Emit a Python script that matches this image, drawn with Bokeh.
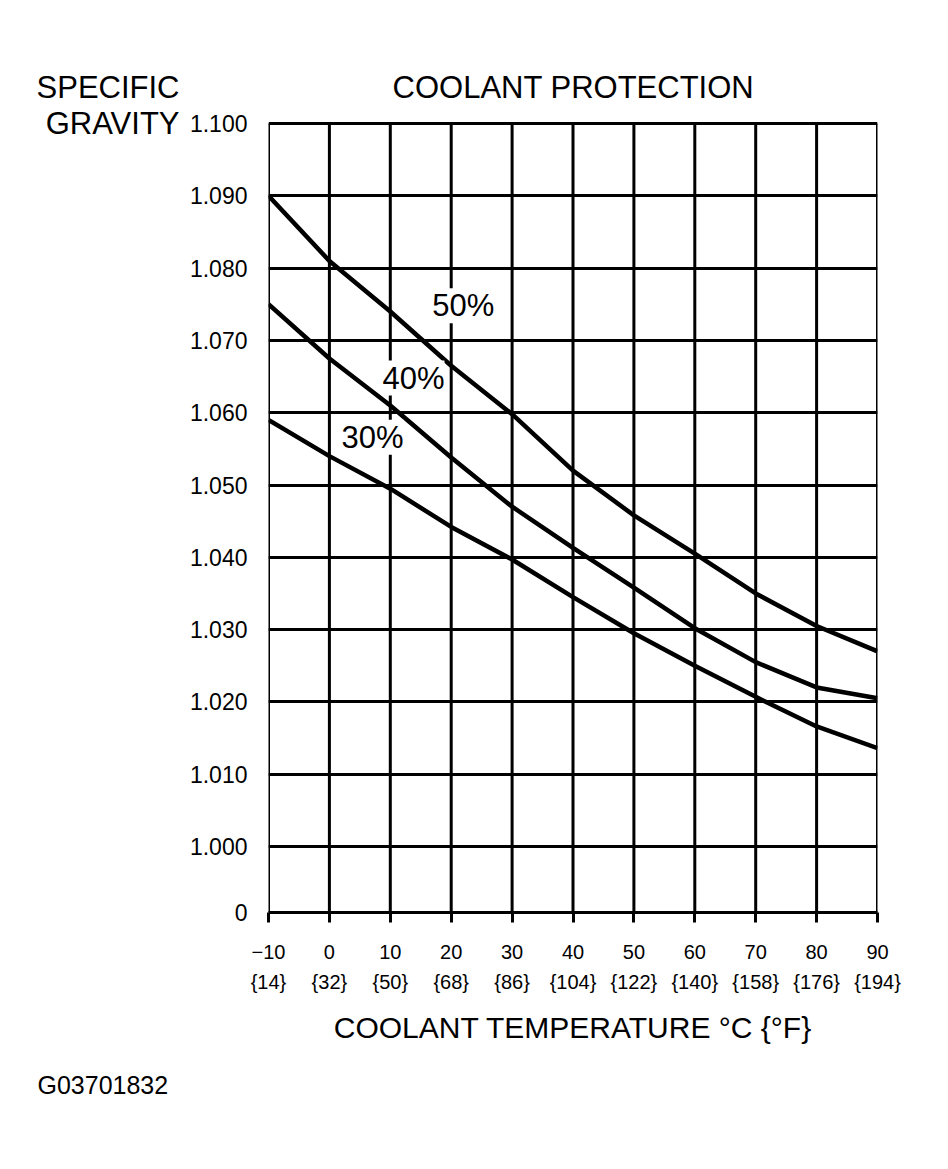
from bokeh.plotting import figure
from bokeh.models import ColumnDataSource, FixedTicker, LinearAxis, Label, Range1d, Title
from bokeh.core.properties import value
from bokeh.embed import file_html
from bokeh.resources import INLINE

# temperature axis, deg C with deg F in braces
temp_c = [-10, 0, 10, 20, 30, 40, 50, 60, 70, 80, 90]
temp_c_labels = ["\u221210", "0", "10", "20", "30", "40", "50", "60", "70", "80", "90"]
temp_f_labels = ["{14}", "{32}", "{50}", "{68}", "{86}", "{104}", "{122}", "{140}", "{158}", "{176}", "{194}"]

# specific gravity
sg_50 = [1.0900, 1.0810, 1.0740, 1.0665, 1.0598, 1.0520, 1.0458, 1.0405, 1.0350, 1.0305, 1.0270]
sg_40 = [1.0750, 1.0675, 1.0610, 1.0538, 1.0470, 1.0413, 1.0358, 1.0302, 1.0255, 1.0220, 1.0205]
sg_30 = [1.0590, 1.0540, 1.0495, 1.0442, 1.0397, 1.0345, 1.0295, 1.0250, 1.0207, 1.0166, 1.0136]

sg_ticks = [1.000, 1.010, 1.020, 1.030, 1.040, 1.050, 1.060, 1.070, 1.080, 1.090, 1.100]
sg_tick_labels = ["1.000", "1.010", "1.020", "1.030", "1.040", "1.050",
                  "1.060", "1.070", "1.080", "1.090", "1.100"]
zero_pos = 0.99087  # the axis is broken: "0" sits just under 1.000
sg_top = 1.100
title_row = 1.105   # height of the caption line above the grid
range_top = 1.109

pct_labels = ["50%", "40%", "30%"]
pct_x = [22.0, 13.8, 7.1]
pct_y = [1.0748, 1.0648, 1.0566]

FONT = "Liberation Sans"

p = figure(width=940, height=1160, output_backend="svg", toolbar_location=None,
           x_range=Range1d(-10, 90), y_range=Range1d(zero_pos, range_top),
           min_border_left=268, min_border_right=63, min_border_top=58, min_border_bottom=248)
p.background_fill_color = "white"
p.border_fill_color = "white"
p.outline_line_color = None

# horizontal grid (top one closes the box)
p.xgrid.visible = False
p.ygrid.ticker = FixedTicker(ticks=[zero_pos] + sg_ticks)
p.ygrid.grid_line_color = "black"
p.ygrid.grid_line_width = 3
p.ygrid.grid_line_alpha = 1.0

# vertical grid lines only as high as 1.100
vsrc = ColumnDataSource(data=dict(x=temp_c, y0=[zero_pos] * len(temp_c), y1=[sg_top] * len(temp_c)))
p.segment(x0="x", y0="y0", x1="x", y1="y1", source=vsrc, line_color="black", line_width=3)

# y axis
p.yaxis.ticker = FixedTicker(ticks=[zero_pos] + sg_ticks)
ylab = {zero_pos: "0"}
for t, s in zip(sg_ticks, sg_tick_labels):
    ylab[t] = s
p.yaxis.major_label_overrides = ylab
p.yaxis.axis_line_color = None
p.yaxis.major_tick_line_color = None
p.yaxis.minor_tick_line_color = None
p.yaxis.major_tick_out = 0
p.yaxis.major_tick_in = 0
p.yaxis.major_label_standoff = 21
p.yaxis.major_label_text_font = FONT
p.yaxis.major_label_text_font_size = "23px"
p.yaxis.major_label_text_color = "black"

# caption "SPECIFIC GRAVITY" as labels of a second left axis
cap = LinearAxis(ticker=FixedTicker(ticks=[title_row, sg_top]))
cap.major_label_overrides = {title_row: "SPECIFIC", sg_top: "GRAVITY"}
cap.axis_line_color = None
cap.major_tick_line_color = None
cap.minor_tick_line_color = None
cap.major_tick_out = 0
cap.major_tick_in = 0
cap.major_label_standoff = 7
cap.major_label_text_font = FONT
cap.major_label_text_font_size = "31px"
cap.major_label_text_color = "black"
p.add_layout(cap, "left")

# x axis, deg C
p.xaxis.ticker = FixedTicker(ticks=temp_c)
p.xaxis.major_label_overrides = dict(zip(temp_c, temp_c_labels))
p.xaxis.axis_line_color = "black"
p.xaxis.axis_line_width = 3
p.xaxis.major_tick_line_color = "black"
p.xaxis.major_tick_line_width = 3
p.xaxis.major_tick_out = 10
p.xaxis.major_tick_in = 0
p.xaxis.minor_tick_line_color = None
p.xaxis.major_label_standoff = 22
p.xaxis.major_label_text_font = FONT
p.xaxis.major_label_text_font_size = "20px"
p.xaxis.major_label_text_color = "black"

# second row of x labels, deg F
fax = LinearAxis(ticker=FixedTicker(ticks=temp_c))
fax.major_label_overrides = dict(zip(temp_c, temp_f_labels))
fax.axis_line_color = None
fax.major_tick_line_color = None
fax.minor_tick_line_color = None
fax.major_tick_out = 0
fax.major_tick_in = 0
fax.major_label_standoff = 9
fax.major_label_text_font = FONT
fax.major_label_text_font_size = "20px"
fax.major_label_text_color = "black"
fax.axis_label = "COOLANT TEMPERATURE \u00b0C {\u00b0F}"
fax.axis_label_standoff = 15
fax.axis_label_text_font = FONT
fax.axis_label_text_font_size = "30px"
fax.axis_label_text_font_style = "normal"
fax.axis_label_text_color = "black"
p.add_layout(fax, "below")

# curves
src = ColumnDataSource(data=dict(t=temp_c, s50=sg_50, s40=sg_40, s30=sg_30))
for col in ["s50", "s40", "s30"]:
    p.line(x="t", y=col, source=src, line_color="black", line_width=4.5)

lab_src = ColumnDataSource(data=dict(x=pct_x, y=pct_y, txt=pct_labels))
p.text(x="x", y="y", text="txt", source=lab_src, text_font=value(FONT),
       text_font_size="31px", text_align="center", text_baseline="middle",
       text_color="black", background_fill_color="white")

# chart heading, centred over the grid
p.add_layout(Label(x=40.07, y=title_row, text="COOLANT PROTECTION", text_font=FONT,
                   text_font_size="31px", text_align="center", text_baseline="middle",
                   text_color="black"))

# figure number, bottom left
fig_no = Title(text="G03701832", align="left", offset=-231, standoff=44, text_font=FONT,
               text_font_size="25px", text_font_style="normal", text_color="black")
p.add_layout(fig_no, "below")

open("out.html", "w").write(file_html(p, INLINE))
